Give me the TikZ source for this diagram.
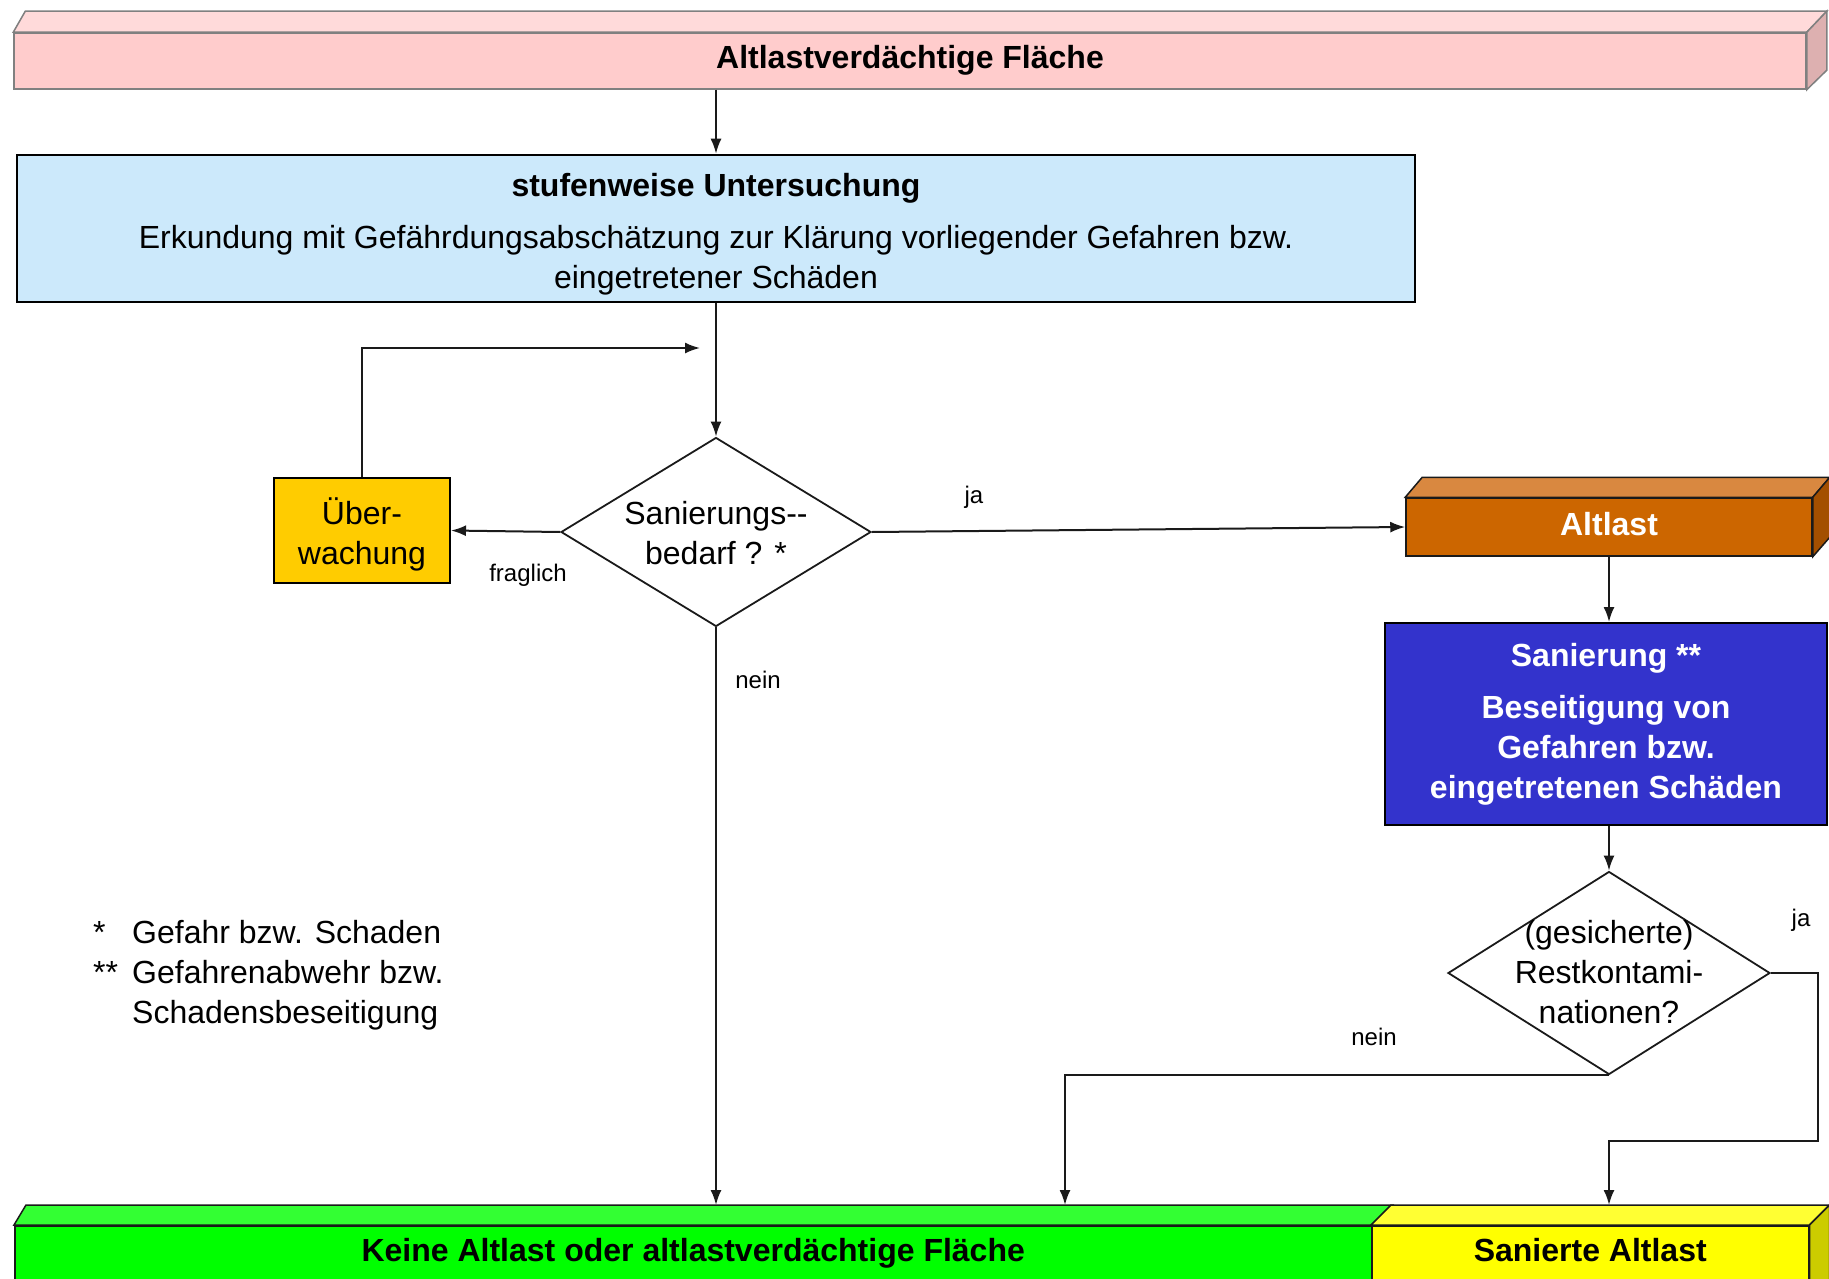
\documentclass[tikz,border=0pt]{standalone}
\usepackage{fontspec}
\setmainfont{Liberation Sans}
\usetikzlibrary{arrows.meta,shapes.geometric,calc}
\definecolor{lineC}{HTML}{1A1A1A}
\definecolor{pinkF}{HTML}{FFCCCC}
\definecolor{pinkT}{HTML}{FFDADA}
\definecolor{pinkD}{HTML}{DDB0B0}
\definecolor{pinkS}{HTML}{808080}
\definecolor{lblue}{HTML}{CCE9FB}
\definecolor{gold}{HTML}{FFCC00}
\definecolor{orF}{HTML}{CC6600}
\definecolor{orT}{HTML}{D98840}
\definecolor{orD}{HTML}{A34F00}
\definecolor{sblue}{HTML}{3333CC}
\definecolor{grF}{HTML}{00FF00}
\definecolor{grT}{HTML}{33FF33}
\definecolor{yeF}{HTML}{FFFF00}
\definecolor{yeT}{HTML}{FFFF33}
\definecolor{yeD}{HTML}{CCCC00}
\begin{document}
\begin{tikzpicture}[x=1pt,y=-1pt,
  base/.style={font=\fontsize{32}{40}\selectfont, align=center, inner sep=0pt},
  bbase/.style={font=\fontsize{32}{40}\selectfont\bfseries, align=center, inner sep=0pt},
  lbl/.style={font=\fontsize{24}{28}\selectfont, inner sep=0pt},
  box/.style={base, draw=black, line width=2pt},
  bar/.style={bbase, draw=lineC, line width=1.5pt, text height=23pt, text depth=7pt},
  face/.style={line width=1.5pt, draw=lineC},
  dia/.style={diamond, draw=lineC, line width=1.8pt, inner sep=0pt, fill=white},
  arr/.style={draw=lineC, line width=2pt, -{Latex[length=15pt,width=11pt]}}
]
\useasboundingbox (0,0) rectangle (1829,1279);

% top bar
\node[bar, fill=pinkF, draw=pinkS, minimum width=1792pt, minimum height=56pt] (top) at (910,61) {Altlastverdächtige Fläche};
\filldraw[face, fill=pinkT, draw=pinkS] (top.north west) -- ++(12,-21) -- ($(top.north east)+(20,-21)$) -- (top.north east) -- cycle;
\filldraw[face, fill=pinkD, draw=pinkS] (top.north east) -- ++(20,-21) -- ++(0,59) -- (top.south east) -- cycle;

% investigation box
\node[box, fill=lblue, line width=2.5pt, minimum width=1398pt, minimum height=147pt] (unt) at (716,228.5) {};
\node[base] (untt) at (716,234)
  {\textbf{stufenweise Untersuchung}\\[12pt]Erkundung mit Gefährdungsabschätzung zur Klärung vorliegender Gefahren bzw.\\eingetretener Schäden};

% decision 1
\node[dia, minimum width=310pt, minimum height=189pt] (d1) at (716,532) {};
\node[base] (d1t) at (716,533) {Sanierungs-{}-\\bedarf ? *};

% monitoring
\node[box, fill=gold, minimum width=176pt, minimum height=105pt] (ueb) at (362,530.5) {};
\node[base] (uebt) at (362,534) {Über-\\wachung};

% Altlast
\node[bar, fill=orF, text=white, minimum width=406pt, minimum height=58pt] (alt) at (1609,527) {Altlast};
\filldraw[face, fill=orT] (alt.north west) -- ++(17,-20) -- ($(alt.north east)+(17,-20)$) -- (alt.north east) -- cycle;
\filldraw[face, fill=orD] (alt.north east) -- ++(17,-20) -- ++(0,60) -- (alt.south east) -- cycle;

% Sanierung
\node[box, fill=sblue, text=white, font=\fontsize{32}{40}\selectfont\bfseries, minimum width=442pt, minimum height=202pt] (san) at (1606,724)
  {Sanierung **\\[12pt]Beseitigung von\\Gefahren bzw.\\eingetretenen Schäden};

% decision 2
\node[dia, minimum width=322pt, minimum height=203pt] (d2) at (1609,973) {};
\node[base] (d2t) at (1609,972) {(gesicherte)\\Restkontami-\\nationen?};

% bottom bars
\node[bar, fill=grF, minimum width=1357pt, minimum height=60pt, text depth=11pt, anchor=north west] (keine) at (14,1225) {Keine Altlast oder altlastverdächtige Fläche};
\filldraw[face, fill=grT] (keine.north west) -- ++(12,-20) -- ($(keine.north east)+(20,-20)$) -- (keine.north east) -- cycle;
\node[bar, fill=yeF, minimum width=437pt, minimum height=60pt, text depth=11pt, anchor=north west] (sa) at (1371,1225) {Sanierte Altlast};
\filldraw[face, fill=yeT] (sa.north west) -- ++(20,-20) -- ($(sa.north east)+(20,-20)$) -- (sa.north east) -- cycle;
\filldraw[face, fill=yeD] (sa.north east) -- ++(20,-20) -- ++(0,80) -- (sa.south east) -- cycle;

% coordinates for free ends
\coordinate (kA) at (716,1205);
\coordinate (kB) at (1065,1205);
\coordinate (sT) at (1609,1205);
\coordinate (loopEnd) at (700,348);

% connectors
\draw[arr] (unt.north |- top.south) -- (unt.north);
\draw[arr] (unt.south) -- (d1.north);
\draw[arr] (d1.west) -- (ueb.east);
\draw[arr] (ueb.north) |- (loopEnd);
\draw[arr] (d1.east) -- (alt.west);
\draw[arr] (alt.south) -- (alt.south |- san.north);
\draw[arr] (san.south -| d2.north) -- (d2.north);
\draw[arr] (d2.east) -| (1818,1141) -| (sT);
\draw[arr] (d2.south) -| (kB);
\draw[arr] (d1.south) -- (kA);

% labels
\node[lbl] (lfrag) at (528,575) {fraglich};
\node[lbl] (lja1) at (974,497) {ja};
\node[lbl] (lnein1) at (758,680) {nein};
\node[lbl] (lnein2) at (1374,1037) {nein};
\node[lbl] (lja2) at (1801,920) {ja};

% legend
\node[base, align=left, anchor=west] (leg) at (93,975)
  {\makebox[39pt][l]{*}Gefahr bzw. Schaden\\\makebox[39pt][l]{**}Gefahrenabwehr bzw.\\\makebox[39pt][l]{}Schadensbeseitigung};
\end{tikzpicture}
\end{document}
